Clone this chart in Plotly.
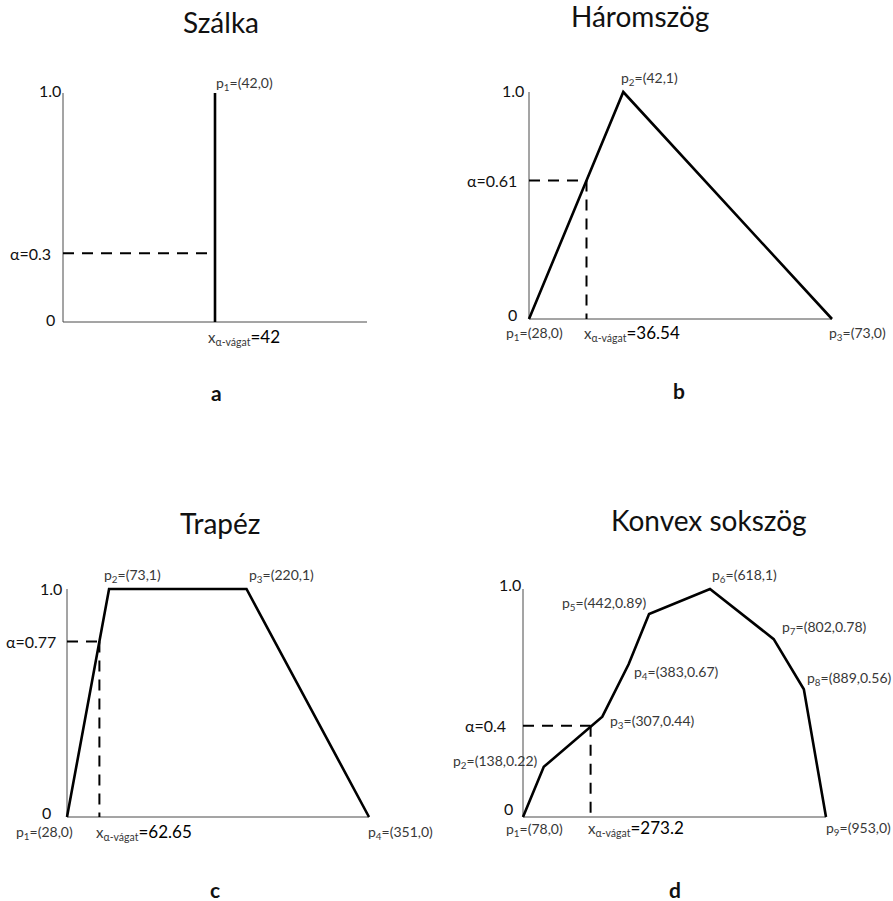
import plotly.graph_objects as go

W, H = 893, 901
FONT = "Lato"

# ---------------- data ----------------
szalka_x = [42, 42]
szalka_y = [0, 1.0]
szalka_alpha = 0.3
szalka_cut = 42

harom_x = [28, 42, 73]
harom_y = [0, 1.0, 0]
harom_alpha = 0.61
harom_cut = 36.54

trapez_x = [28, 73, 220, 351]
trapez_y = [0, 1.0, 1.0, 0]
trapez_alpha = 0.77
trapez_cut = 62.65

konvex_x = [78, 138, 307, 383, 442, 618, 802, 889, 953]
konvex_y = [0, 0.22, 0.44, 0.67, 0.89, 1.0, 0.78, 0.56, 0]
konvex_alpha = 0.4
konvex_cut = 273.2

titles = ["Szálka", "Háromszög", "Trapéz", "Konvex sokszög"]
letters = ["a", "b", "c", "d"]
tick_vals = [0, 1.0]
tick_text = ["0", "1.0"]


def fmt(v):
    return f"{v:g}"


# ---------------- panel geometry (pixels) ----------------
# x-range of each panel's axis, the pixel columns it spans, and the pixel rows of y=0 / y=1
panels = [
    dict(x0=0, x1=84, px0=63, px1=367, py0=322, py1=93),
    dict(x0=28, x1=73, px0=529, px1=832, py0=319, py1=92),
    dict(x0=28, x1=351, px0=67, px1=369, py0=817, py1=589),
    dict(x0=78, x1=953, px0=523, px1=826, py0=817, py1=589),
]
PAD = 14

fig = go.Figure()
layout_axes = {}
for i, p in enumerate(panels):
    sx = (p["x1"] - p["x0"]) / (p["px1"] - p["px0"])
    sy = 1.0 / (p["py0"] - p["py1"])
    xr = [p["x0"] - PAD * sx, p["x1"] + PAD * sx]
    yr = [0 - PAD * sy, 1 + PAD * sy]
    xd = [(p["px0"] - PAD) / W, (p["px1"] + PAD) / W]
    yd = [1 - (p["py0"] + PAD) / H, 1 - (p["py1"] - PAD) / H]
    n = "" if i == 0 else str(i + 1)
    layout_axes[f"xaxis{n}"] = dict(domain=xd, range=xr, visible=False,
                                    anchor=f"y{n}", fixedrange=True)
    layout_axes[f"yaxis{n}"] = dict(domain=yd, range=yr, visible=False,
                                    anchor=f"x{n}", fixedrange=True)

AXIS_LINE = dict(color="#4a4a4a", width=1)
CURVE = dict(color="#000000", width=2.6)
DASH = dict(color="#000000", width=2, dash="11px,8px")

shapes_data = [
    (szalka_x, szalka_y, szalka_alpha, szalka_cut),
    (harom_x, harom_y, harom_alpha, harom_cut),
    (trapez_x, trapez_y, trapez_alpha, trapez_cut),
    (konvex_x, konvex_y, konvex_alpha, konvex_cut),
]

annotations = []


def ann(text, x, y, xref, yref, dx=0, dy=0, xanchor="left", size=14,
        color="#383838", yanchor="middle"):
    annotations.append(dict(
        text=text, x=x, y=y, xref=xref, yref=yref, xshift=dx, yshift=-dy,
        xanchor=xanchor, yanchor=yanchor, showarrow=False,
        font=dict(family=FONT, size=size, color=color), borderpad=0))


# label offsets (pixels) for each point label: (dx, dy, anchor)
point_offsets = [
    [(0, -10, "left")],
    [(-24, 14, "left"), (-3, -14, "left"), (-4, 14, "left")],
    [(-52, 15, "left"), (-6, -14, "left"), (1.5, -14, "left"), (-2, 15, "left")],
    [(-18, 12, "left"), (-5, -5, "right"), (7, 5, "left"), (4, 8, "left"),
     (-1, -11, "right"), (1, -14, "left"), (7, -12, "left"), (2, -11, "left"),
     (-1, 11, "left")],
]
cut_offsets = [(-8, 15), (-3.5, 14), (-4, 15), (-4, 11)]
alpha_offsets = [-11, -11, -10, -16]
tick_offsets = [  # (dx, dy) for "0" and "1.0"
    [(-7, -3), (-1, -3)],
    [(-11, -5), (-4, -2)],
    [(-15, -5), (-4, -1)],
    [(-9, -9), (-1, -5)],
]
title_pos = [(221, 22), (640, 16), (220, 523), (709, 520)]
letter_pos = [(216, 392), (679, 390), (215, 889), (675, 889)]

for i, (xs, ys, alpha, cut) in enumerate(shapes_data):
    p = panels[i]
    n = "" if i == 0 else str(i + 1)
    xref, yref = f"x{n}", f"y{n}"
    x_left = p["x0"]
    x_right = p["x1"]

    # axes frame: vertical axis at the left end, horizontal at y = 0
    fig.add_trace(go.Scatter(x=[x_left, x_left, x_right], y=[1.0, 0, 0],
                             mode="lines", line=AXIS_LINE, xaxis=xref, yaxis=yref,
                             hoverinfo="skip", showlegend=False))
    # membership function
    fig.add_trace(go.Scatter(x=xs, y=ys, mode="lines", line=CURVE,
                             xaxis=xref, yaxis=yref, showlegend=False,
                             hoverinfo="x+y"))
    # alpha-cut guides
    fig.add_trace(go.Scatter(x=[x_left, cut], y=[alpha, alpha], mode="lines",
                             line=DASH, xaxis=xref, yaxis=yref,
                             hoverinfo="skip", showlegend=False))
    if i > 0:
        fig.add_trace(go.Scatter(x=[cut, cut], y=[alpha, 0], mode="lines",
                                 line=DASH, xaxis=xref, yaxis=yref,
                                 hoverinfo="skip", showlegend=False))

    # y tick labels
    for (tv, tt), (dx, dy) in zip(zip(tick_vals, tick_text), tick_offsets[i]):
        ann(tt, x_left, tv, xref, yref, dx=dx, dy=dy, xanchor="right",
            size=16, color="#111111")

    # alpha label
    ann(f"α={fmt(alpha)}", x_left, alpha, xref, yref, dx=alpha_offsets[i],
        xanchor="right", size=16, color="#111111")

    # point labels
    if i == 0:
        ann(f"p<sub>1</sub>=({fmt(xs[0])},{fmt(ys[0])})", xs[1], ys[1], xref,
            yref, dx=point_offsets[0][0][0], dy=point_offsets[0][0][1])
    else:
        for k, (px, py) in enumerate(zip(xs, ys)):
            dx, dy, anc = point_offsets[i][k]
            ann(f"p<sub>{k + 1}</sub>=({fmt(px)},{fmt(py)})", px, py, xref, yref,
                dx=dx, dy=dy, xanchor=anc)

    # alpha-cut value on the x axis
    cdx, cdy = cut_offsets[i]
    ann("<span style='font-size:15px;color:#383838'>x<sub>α-vágat</sub></span>"
        f"<span style='font-size:17px;color:#000000'>={fmt(cut)}</span>",
        cut, 0, xref, yref, dx=cdx, dy=cdy, size=15, color="#000000")

    # title and panel letter
    tx, ty = title_pos[i]
    ann(titles[i], tx / W, 1 - ty / H, "paper", "paper", xanchor="center",
        size=28, color="#111111")
    lx, ly = letter_pos[i]
    ann(f"<b>{letters[i]}</b>", lx / W, 1 - ly / H, "paper", "paper",
        xanchor="center", size=21, color="#111111")

fig.update_layout(
    width=W, height=H, autosize=False,
    margin=dict(l=0, r=0, t=0, b=0),
    paper_bgcolor="white", plot_bgcolor="white",
    font=dict(family=FONT),
    showlegend=False,
    annotations=annotations,
    **layout_axes,
)

fig.write_html("out.html")
